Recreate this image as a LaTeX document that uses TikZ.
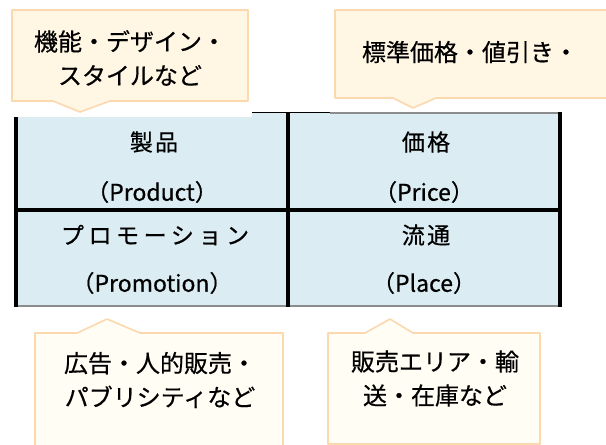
\documentclass[tikz,border=0pt]{standalone}
\usepackage{fontspec}
\setmainfont{Noto Sans CJK JP}[FakeBold=0.5]
\definecolor{cellblue}{RGB}{219,236,242}
\definecolor{callfill}{RGB}{255,246,228}
\definecolor{callfilltwo}{RGB}{255,253,244}
\definecolor{callline}{RGB}{252,216,174}
\definecolor{grayline}{RGB}{140,140,140}
\begin{document}
\begin{tikzpicture}[x=1pt,y=-1pt,
  heavyline/.style={line width=4pt,black},
  thinline/.style={line width=1.2pt,grayline},
  calloutshape/.style={draw=callline,line width=1.6pt,line join=round},
  calltext/.style={font=\fontsize{24}{34}\selectfont,align=center,inner sep=0pt},
  celltext/.style={font=\fontsize{23}{26}\selectfont,inner sep=0pt}]
\useasboundingbox (0,0) rectangle (606,445);
\fill[white] (0,0) rectangle (606,445);
% table body
\fill[cellblue] (16,113) rectangle (560,306);
\fill[white] (12,101) rectangle (252,117);
\draw[line width=1.3pt,black] (252,112.5) -- (330,112.5);
\draw[thinline] (330,113) -- (560,113);
\draw[thinline] (16,306) -- (560,306);
\draw[heavyline] (16,117) -- (16,307);
\draw[heavyline] (288,112) -- (288,307);
\draw[heavyline] (560,112) -- (560,307);
\draw[heavyline] (16,210) -- (560,210);
% callouts
\path[calloutshape,fill=callfill] (12,10) -- (248,10) -- (248,101) -- (110,101) -- (80,112) -- (53,101) -- (12,101) -- cycle;
\path[calloutshape,fill=callfill] (335,10) -- (612,10) -- (612,98) -- (436,98) -- (413,108) -- (393,98) -- (335,98) -- cycle;
\path[calloutshape,fill=callfilltwo] (35,333) -- (77,333) -- (107,319) -- (140,333) -- (283,333) -- (283,452) -- (35,452) -- cycle;
\path[calloutshape,fill=callfilltwo] (328,333) -- (365,333) -- (390,319) -- (413,333) -- (540,333) -- (540,444) -- (328,444) -- cycle;
% callout texts
\node[calltext] (c1) at (130,58) {機能・デザイン・\\スタイルなど};
\node[calltext] (c2) at (470,52) {標準価格・値引き・};
\node[calltext] (c3) at (160,380) {広告・人的販売・\\パブリシティなど};
\node[calltext] (c4) at (435,378.5) {販売エリア・輸\\送・在庫など};
% cell texts
\node[celltext] (t1) at (154,142) {\addfontfeatures{LetterSpace=10}製品};
\node[celltext] (t1e) at (152,192) {（Product）};
\node[celltext] (t2) at (426,142) {\addfontfeatures{LetterSpace=10}価格};
\node[celltext] (t2e) at (424,192) {（Price）};
\node[celltext] (t3) at (155,235) {\addfontfeatures{LetterSpace=20}プロモーション};
\node[celltext] (t3e) at (152,283) {（Promotion）};
\node[celltext] (t4) at (426,235) {\addfontfeatures{LetterSpace=10}流通};
\node[celltext] (t4e) at (424,283) {（Place）};
\end{tikzpicture}
\end{document}
